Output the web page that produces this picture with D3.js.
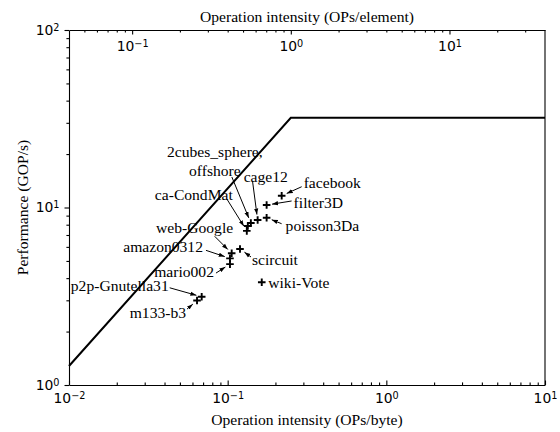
<!DOCTYPE html>
<html>
<head>
<meta charset="utf-8">
<title>Roofline</title>
<script src="https://d3js.org/d3.v7.min.js"></script>
<style>
  body { margin: 0; background: #fff; }
  .axis text { font-family: "DejaVu Sans", sans-serif; font-size: 13.9px; fill: #000; }
  .axis path, .axis line { stroke: #000; stroke-width: 1.1; }
  .lbl { font-family: "Liberation Serif", "Times New Roman", serif; font-size: 15.6px; fill: #000; }
</style>
</head>
<body>
<svg id="chart" width="560" height="432"></svg>
<script>
// matrices and their measured (intensity, performance)
var names = ["facebook", "filter3D", "poisson3Da", "cage12", "2cubes_sphere", "offshore", "ca-CondMat",
             "web-Google", "scircuit", "amazon0312", "mario002", "wiki-Vote", "p2p-Gnutella31", "m133-b3"];
var intensity = [0.219, 0.176, 0.176, 0.1545, 0.140, 0.134, 0.132, 0.106, 0.1196, 0.1034, 0.1034, 0.164, 0.0686, 0.0641];
var perf = [11.65, 10.33, 8.76, 8.50, 8.18, 7.87, 7.38, 5.52, 5.84, 5.17, 4.80, 3.79, 3.14, 2.99];

// roofline corners (OPs/byte, GOP/s)
var roofX = [0.01, 0.25, 10];
var roofY = [1.28, 32, 32];

var xTicks = [0.01, 0.1, 1, 10];
var xTickExp = ["\u22122", "\u22121", "0", "1"];
var topTicks = [0.1, 1, 10];
var topTickExp = ["\u22121", "0", "1"];
var yTicks = [1, 10, 100];
var yTickExp = ["0", "1", "2"];

// label placement relative to each point: [dx, dy, anchor, arrow tail dx, arrow tail dy]
var labelPos = {
  "facebook":       [22, -8, "start", 20, -9],
  "filter3D":       [27, 3.5, "start", 25, -4],
  "poisson3Da":     [19, 13, "start", 15, 6],
  "cage12":         [-14, -38.5, "start", -5, -38],
  "2cubes_sphere":  [-36, -66, "middle", -19, -46],
  "ca-CondMat":     [-14, -30.5, "end", -20, -32],
  "web-Google":     [1.5, -20, "end", -17, -17],
  "amazon0312":     [-27, -6, "end", -24, -8],
  "scircuit":       [12, 16.5, "start", 11, 8],
  "mario002":       [-16, 12.5, "end", -14, 9],
  "wiki-Vote":      [6.5, 5.5, "start", null, null],
  "p2p-Gnutella31": [-33, -6, "end", -32, -9],
  "m133-b3":        [-11, 17, "end", -10, 8.5]
};
var labelText = { "2cubes_sphere": ["2cubes_sphere,", "offshore"] };

var svg = d3.select("#chart");
var margin = {left: 69, right: 15, top: 30, bottom: 47};
var W = 560, H = 432;

var x = d3.scaleLog().domain([0.01, 10]).range([margin.left, W - margin.right]);
var xTop = d3.scaleLog().domain([0.04, 40]).range([margin.left, W - margin.right]);
var y = d3.scaleLog().domain([1, 100]).range([H - margin.bottom, margin.top]);

function minors(lo, hi) {
  var out = [];
  for (var e = Math.floor(Math.log10(lo)); e <= Math.ceil(Math.log10(hi)); e++) {
    for (var m = 2; m <= 9; m++) {
      var v = m * Math.pow(10, e);
      if (v > lo && v < hi) out.push(v);
    }
  }
  return out;
}

function supLabels(sel, exps) {
  sel.selectAll(".tick text").each(function(d, i) {
    var t = d3.select(this);
    t.text(null);
    t.append("tspan").text("10");
    t.append("tspan").attr("dy", "-0.45em").style("font-size", "9.7px").text(exps[i]);
  });
}

// bottom axis, ticks inside
var gx = svg.append("g").attr("class", "axis")
  .attr("transform", "translate(0," + y.range()[0] + ")")
  .call(d3.axisBottom(x).tickValues(xTicks).tickFormat("").tickSize(-4.5).tickSizeOuter(0).tickPadding(8));
supLabels(gx, xTickExp);
svg.append("g").attr("class", "axis")
  .attr("transform", "translate(0," + y.range()[0] + ")")
  .call(d3.axisBottom(x).tickValues(minors(0.01, 10)).tickFormat("").tickSize(-2.6).tickSizeOuter(0))
  .select(".domain").remove();

// top axis, ticks inside and labels inside the frame
var gt = svg.append("g").attr("class", "axis")
  .attr("transform", "translate(0," + margin.top + ")")
  .call(d3.axisBottom(xTop).tickValues(topTicks).tickFormat("").tickSize(4.5).tickSizeOuter(0).tickPadding(7));
supLabels(gt, topTickExp);
svg.append("g").attr("class", "axis")
  .attr("transform", "translate(0," + margin.top + ")")
  .call(d3.axisBottom(xTop).tickValues(minors(0.04, 40)).tickFormat("").tickSize(2.6).tickSizeOuter(0))
  .select(".domain").remove();

// left axis, ticks outside
var gy = svg.append("g").attr("class", "axis")
  .attr("transform", "translate(" + margin.left + ",0)")
  .call(d3.axisLeft(y).tickValues(yTicks).tickFormat("").tickSize(4.5).tickSizeOuter(0).tickPadding(5));
supLabels(gy, yTickExp);
svg.append("g").attr("class", "axis")
  .attr("transform", "translate(" + margin.left + ",0)")
  .call(d3.axisLeft(y).tickValues(minors(1, 100)).tickFormat("").tickSize(2.6).tickSizeOuter(0))
  .select(".domain").remove();

// right spine
svg.append("line")
  .attr("x1", x.range()[1]).attr("x2", x.range()[1])
  .attr("y1", y.range()[0]).attr("y2", y.range()[1])
  .attr("stroke", "#000").attr("stroke-width", 1.1);

// axis titles
svg.append("text").attr("class", "lbl")
  .attr("x", (x.range()[0] + x.range()[1]) / 2).attr("y", 22)
  .attr("text-anchor", "middle").text("Operation intensity (OPs/element)");
svg.append("text").attr("class", "lbl")
  .attr("x", (x.range()[0] + x.range()[1]) / 2).attr("y", 425)
  .attr("text-anchor", "middle").text("Operation intensity (OPs/byte)");
svg.append("text").attr("class", "lbl")
  .attr("transform", "translate(28," + (y.range()[0] + y.range()[1]) / 2 + ") rotate(-90)")
  .attr("text-anchor", "middle").text("Performance (GOP/s)");

// roofline
svg.append("path")
  .datum(roofX.map(function(v, i) { return [v, roofY[i]]; }))
  .attr("fill", "none").attr("stroke", "#000").attr("stroke-width", 2)
  .attr("d", d3.line().x(function(d) { return x(d[0]); }).y(function(d) { return y(d[1]); }));

// arrow head
svg.append("defs").append("marker")
  .attr("id", "head").attr("viewBox", "0 0 10 10")
  .attr("refX", 10).attr("refY", 5)
  .attr("markerWidth", 6).attr("markerHeight", 6)
  .attr("markerUnits", "userSpaceOnUse")
  .attr("orient", "auto")
  .append("path").attr("d", "M0,1.5L10,5L0,8.5Z").attr("fill", "#000");

var pts = names.map(function(n, i) { return {name: n, px: x(intensity[i]), py: y(perf[i])}; });

// annotations
pts.forEach(function(p) {
  var lp = labelPos[p.name];
  if (!lp) return;
  if (lp[3] !== null) {
    var tx = p.px + lp[3], ty = p.py + lp[4];
    var dx = p.px - tx, dy = p.py - ty, len = Math.sqrt(dx * dx + dy * dy);
    var s = 5.5;
    svg.append("line")
      .attr("x1", tx).attr("y1", ty)
      .attr("x2", p.px - dx / len * s).attr("y2", p.py - dy / len * s)
      .attr("stroke", "#000").attr("stroke-width", 1)
      .attr("marker-end", "url(#head)");
  }
  var lines = labelText[p.name] || [p.name];
  var t = svg.append("text").attr("class", "lbl")
    .attr("text-anchor", lp[2])
    .attr("x", p.px + lp[0]).attr("y", p.py + lp[1]);
  lines.forEach(function(l, k) {
    t.append("tspan").attr("x", p.px + lp[0]).attr("dy", k === 0 ? 0 : 19).text(l);
  });
});

// plus markers
svg.append("g").selectAll("path")
  .data(pts).enter().append("path")
  .attr("d", function(p) {
    var r = 3.8;
    return "M" + (p.px - r) + "," + p.py + "H" + (p.px + r) + "M" + p.px + "," + (p.py - r) + "V" + (p.py + r);
  })
  .attr("stroke", "#000").attr("stroke-width", 1.9).attr("fill", "none");
</script>
</body>
</html>
